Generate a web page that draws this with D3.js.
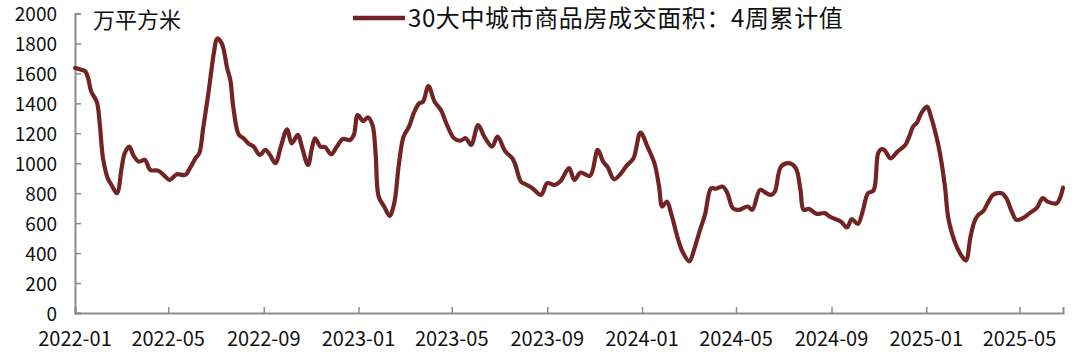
<!DOCTYPE html>
<html>
<head>
<meta charset="utf-8">
<script src="https://cdn.jsdelivr.net/npm/d3@7"></script>
<style>
  body { margin: 0; background: #fff; }
  svg { display: block; }
</style>
</head>
<body>
<div id="chart"></div>
<script>
// 30大中城市商品房成交面积：4周累计值 (万平方米)
const dates = [
  "2022-01-01","2022-01-10","2022-01-14","2022-01-18","2022-01-22","2022-01-29","2022-02-02","2022-02-06",
  "2022-02-12","2022-02-17","2022-02-24","2022-03-02","2022-03-06","2022-03-12","2022-03-17","2022-03-24",
  "2022-04-01","2022-04-08","2022-04-18","2022-04-25","2022-05-03","2022-05-12","2022-05-23","2022-05-29",
  "2022-06-05","2022-06-10","2022-06-15","2022-06-22","2022-06-29","2022-07-03","2022-07-09","2022-07-16",
  "2022-07-20","2022-07-24","2022-07-31","2022-08-06","2022-08-12","2022-08-19","2022-08-27","2022-09-03",
  "2022-09-09","2022-09-16","2022-09-23","2022-10-01","2022-10-07","2022-10-15","2022-10-20","2022-10-28",
  "2022-11-02","2022-11-06","2022-11-13","2022-11-19","2022-11-27","2022-12-04","2022-12-12","2022-12-21",
  "2022-12-26","2022-12-31","2023-01-07","2023-01-13","2023-01-19","2023-01-23","2023-01-27","2023-02-03",
  "2023-02-10","2023-02-16","2023-02-22","2023-02-28","2023-03-07","2023-03-13","2023-03-20","2023-03-25",
  "2023-04-01","2023-04-09","2023-04-17","2023-04-25","2023-05-04","2023-05-12","2023-05-19","2023-05-26",
  "2023-06-04","2023-06-12","2023-06-22","2023-06-29","2023-07-09","2023-07-18","2023-07-22","2023-07-29",
  "2023-08-04","2023-08-13","2023-08-24","2023-09-01","2023-09-10","2023-09-18","2023-09-29","2023-10-06",
  "2023-10-14","2023-10-26","2023-11-05","2023-11-12","2023-11-18","2023-11-26","2023-12-05","2023-12-13",
  "2023-12-21","2023-12-30","2024-01-08","2024-01-17","2024-01-23","2024-01-27","2024-02-02","2024-02-08",
  "2024-02-16","2024-02-22","2024-03-02","2024-03-08","2024-03-15","2024-03-22","2024-03-30","2024-04-05",
  "2024-04-14","2024-04-20","2024-04-27","2024-05-05","2024-05-16","2024-05-22","2024-06-01","2024-06-09",
  "2024-06-15","2024-06-20","2024-06-28","2024-07-09","2024-07-17","2024-07-23","2024-07-27","2024-08-03",
  "2024-08-13","2024-08-23","2024-08-31","2024-09-13","2024-09-21","2024-09-27","2024-10-05","2024-10-11",
  "2024-10-18","2024-10-25","2024-10-31","2024-11-04","2024-11-08","2024-11-16","2024-11-25","2024-12-05",
  "2024-12-10","2024-12-15","2024-12-20","2024-12-26","2025-01-02","2025-01-07","2025-01-14","2025-01-19",
  "2025-01-25","2025-01-29","2025-02-03","2025-02-10","2025-02-16","2025-02-21","2025-02-27","2025-03-04",
  "2025-03-09","2025-03-15","2025-03-21","2025-03-28","2025-04-08","2025-04-14","2025-04-21","2025-04-27",
  "2025-05-05","2025-05-14","2025-05-23","2025-05-31","2025-06-06","2025-06-18","2025-06-22","2025-06-26"
];
const values = [
  1637,1622,1615,1567,1477,1411,1255,1035,
  902,855,800,967,1067,1111,1055,1011,
  1022,955,951,922,889,927,922,967,
  1033,1067,1233,1477,1744,1833,1800,1633,
  1555,1367,1189,1167,1133,1111,1055,1089,
  1055,1000,1111,1227,1133,1189,1111,989,
  1100,1167,1111,1107,1060,1111,1162,1155,
  1189,1322,1282,1307,1255,1067,777,711,
  649,733,995,1178,1244,1333,1400,1411,
  1515,1411,1355,1255,1167,1151,1167,1122,
  1255,1178,1111,1178,1078,1033,989,878,
  860,833,789,867,855,880,967,889,
  938,915,1089,1011,973,893,933,989,
  1033,1204,1111,1000,844,711,744,655,
  500,411,344,422,544,655,833,830,
  844,800,700,689,711,689,822,800,
  789,811,978,1000,967,822,689,695,
  662,667,640,611,571,627,595,678,
  800,818,1067,1093,1089,1033,1078,1122,
  1178,1244,1271,1338,1378,1311,1178,1055,
  844,644,533,433,378,351,511,611,
  655,678,733,789,800,767,678,622,
  633,667,700,767,744,733,767,837
];
const xTickLabels = ["2022-01","2022-05","2022-09","2023-01","2023-05","2023-09",
  "2024-01","2024-05","2024-09","2025-01","2025-05"];
const yTicks = [0,200,400,600,800,1000,1200,1400,1600,1800,2000];
const unitLabel = "万平方米";
const seriesName = "30大中城市商品房成交面积：4周累计值";

const width = 1080, height = 357;
const margin = {top: 13.5, right: 17, bottom: 44, left: 75};
const lineColor = "#722424";
const axisColor = "#8c8c8c";
const font = "'Noto Sans CJK SC', 'Noto Sans', sans-serif";

const parse = d3.timeParse("%Y-%m-%d");
const parseMonth = d3.timeParse("%Y-%m");
const data = dates.map((d, i) => ({date: parse(d), value: values[i]}));

const svg = d3.select("#chart").append("svg")
    .attr("width", width)
    .attr("height", height);

const x = d3.scaleTime()
    .domain([parse("2022-01-01"), parse(dates[dates.length - 1])])
    .range([margin.left, width - margin.right]);

const y = d3.scaleLinear()
    .domain([0, 2000])
    .range([height - margin.bottom, margin.top]);

// y axis, ticks point into the plot
const yAxis = svg.append("g")
    .attr("transform", `translate(${margin.left},0)`)
    .call(d3.axisRight(y).tickValues(yTicks).tickSize(6).tickFormat(""));
yAxis.select(".domain").attr("stroke", axisColor).attr("stroke-width", 2);
yAxis.selectAll(".tick line").attr("stroke", axisColor).attr("stroke-width", 1.5);

svg.append("g").selectAll("text")
    .data(yTicks)
    .join("text")
    .attr("x", 57)
    .attr("y", d => y(d))
    .attr("dy", "0.4em")
    .attr("text-anchor", "end")
    .attr("font-family", font)
    .attr("font-size", "19px")
    .attr("fill", "#111")
    .text(d => d);

// x axis, ticks point up
const xTickDates = xTickLabels.map(parseMonth);
const xAxis = svg.append("g")
    .attr("transform", `translate(0,${height - margin.bottom})`)
    .call(d3.axisTop(x).tickValues(xTickDates).tickSize(6).tickFormat(""));
xAxis.select(".domain").attr("stroke", axisColor).attr("stroke-width", 2);
xAxis.selectAll(".tick line").attr("stroke", axisColor).attr("stroke-width", 1.5);

svg.append("g").selectAll("text")
    .data(xTickLabels)
    .join("text")
    .attr("x", d => x(parseMonth(d)))
    .attr("y", 346)
    .attr("text-anchor", "middle")
    .attr("font-family", font)
    .attr("font-size", "20px")
    .attr("fill", "#111")
    .text(d => d);

// the series
const line = d3.line()
    .x(d => x(d.date))
    .y(d => y(d.value))
    .curve(d3.curveCatmullRom.alpha(0.5));

svg.append("path")
    .datum(data)
    .attr("fill", "none")
    .attr("stroke", lineColor)
    .attr("stroke-width", 4.2)
    .attr("stroke-linejoin", "round")
    .attr("stroke-linecap", "round")
    .attr("d", line);

// unit label
svg.append("text")
    .attr("x", 93)
    .attr("y", 28)
    .attr("font-family", font)
    .attr("font-size", "22px")
    .attr("fill", "#111")
    .text(unitLabel);

// legend
svg.append("line")
    .attr("x1", 353).attr("x2", 405)
    .attr("y1", 18).attr("y2", 18)
    .attr("stroke", lineColor)
    .attr("stroke-width", 4.5);

svg.append("text")
    .attr("x", 408)
    .attr("y", 27)
    .attr("font-family", font)
    .attr("font-size", "24px")
    .attr("letter-spacing", "0.6px")
    .attr("fill", "#111")
    .text(seriesName);
</script>
</body>
</html>
